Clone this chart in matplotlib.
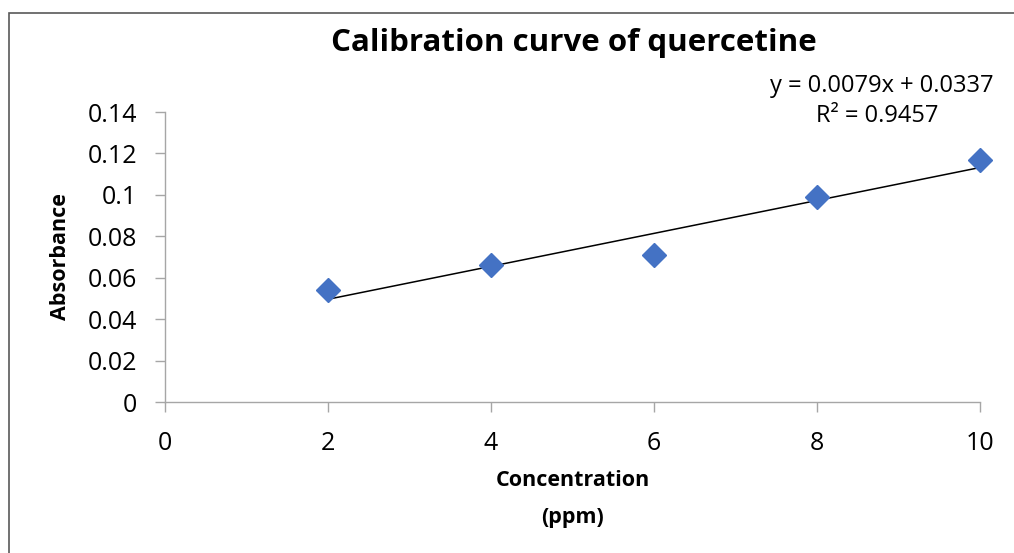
import matplotlib
matplotlib.use('Agg')
import matplotlib.pyplot as plt
import numpy as np
from matplotlib.patches import Rectangle

# Datos de la curva de calibración
concentracion = [2, 4, 6, 8, 10]
absorbancia = [0.054, 0.066, 0.071, 0.099, 0.117]
x_ticks = [0, 2, 4, 6, 8, 10]
y_ticks = [0, 0.02, 0.04, 0.06, 0.08, 0.1, 0.12, 0.14]
y_tick_labels = ['0', '0.02', '0.04', '0.06', '0.08', '0.1', '0.12', '0.14']
ecuacion = 'y = 0.0079x + 0.0337'
r2_texto = 'R² = 0.9457'

plt.rcParams['font.family'] = ['Open Sans', 'DejaVu Sans']

W, H = 1014, 553
fig = plt.figure(figsize=(W / 100, H / 100), dpi=100)

# Marco exterior del gráfico (continúa fuera de la imagen a la derecha y abajo)
fig.patches.append(Rectangle((9 / W, -0.5), 1.5, 0.5 + (H - 13) / H,
                             transform=fig.transFigure,
                             fill=False, edgecolor='#595959', lw=1.2))

ax = fig.add_axes([165 / W, (H - 402) / H, (980 - 165) / W, (402 - 112) / H])

# Línea de tendencia (ajuste lineal)
m, b = np.polyfit(concentracion, absorbancia, 1)
xt = np.array([concentracion[0], concentracion[-1]])
ax.plot(xt, m * xt + b, color='black', lw=1.1, zorder=2)

ax.plot(concentracion, absorbancia, linestyle='none', marker='D', markersize=12.5,
        color='#4472C4', zorder=3, clip_on=False)

ax.set_xlim(0, 10)
ax.set_ylim(0, 0.14)
ax.set_xticks(x_ticks)
ax.set_xticklabels([str(v) for v in x_ticks])
ax.set_yticks(y_ticks)
ax.set_yticklabels(y_tick_labels)

for s in ['top', 'right']:
    ax.spines[s].set_visible(False)
for s in ['left', 'bottom']:
    ax.spines[s].set_color('#a6a6a6')
    ax.spines[s].set_linewidth(1.0)
ax.tick_params(axis='both', direction='out', length=7, width=1.0, color='#a6a6a6',
               labelsize=18, labelcolor='#000000')
ax.tick_params(axis='y', pad=13)
ax.tick_params(axis='x', pad=14)

fig.text(574 / W, (H - 43) / H, 'Calibration curve of quercetine', ha='center',
         va='center', fontsize=22.5, fontweight='bold')
fig.text(573 / W, (H - 481) / H, 'Concentration', ha='center', va='center',
         fontsize=15.5, fontweight='bold')
fig.text(573 / W, (H - 518) / H, '(ppm)', ha='center', va='center',
         fontsize=15.5, fontweight='bold')
fig.text(60 / W, (H - 257) / H, 'Absorbance', ha='center', va='center',
         fontsize=15.5, fontweight='bold', rotation=90)

fig.text(882 / W, (H - 86) / H, ecuacion, ha='center', va='center', fontsize=17)
fig.text(877 / W, (H - 116) / H, r2_texto, ha='center', va='center', fontsize=17)

fig.savefig('out.png', dpi=100)
